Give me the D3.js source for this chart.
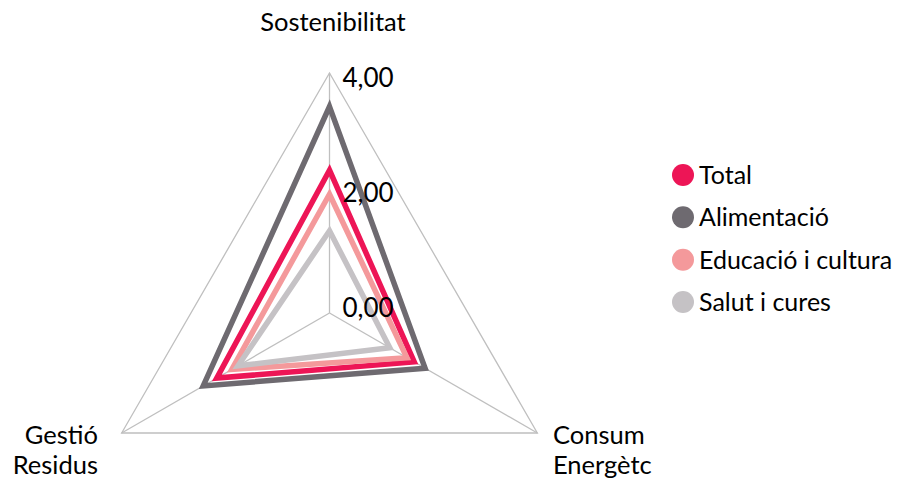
<!DOCTYPE html>
<html><head><meta charset="utf-8">
<script src="https://cdn.jsdelivr.net/npm/d3@7"></script>
<style>
html,body{margin:0;padding:0;background:#fff;}
svg{display:block;font-family:"Lato","Open Sans",sans-serif;}
</style></head>
<body>
<svg id="chart" width="902" height="480"></svg>
<script>
const axes = [["Sostenibilitat"], ["Consum", "Energètc"], ["Gestió", "Residus"]];
const seriesNames = ["Total", "Alimentació", "Educació i cultura", "Salut i cures"];
const total = [2.38, 1.63, 2.17];
const alimentacio = [3.44, 1.84, 2.43];
const educacio = [1.98, 1.49, 1.88];
const salut = [1.37, 1.16, 1.76];
const tickValues = [0, 2, 4];
const tickLabels = ["0,00", "2,00", "4,00"];
const colors = ["#ED1556", "#6E6A70", "#F4999B", "#C5C2C5"];

const seriesValues = [total, alimentacio, educacio, salut];
const svg = d3.select("#chart");
const cx = 329.5, cy = 313, R = 240;
const r = d3.scaleLinear().domain([0, 4]).range([0, R]);
const angle = d3.scaleLinear().domain([0, axes.length]).range([0, 2 * Math.PI]);
const pt = (i, v) => [cx + r(v) * Math.sin(angle(i)), cy - r(v) * Math.cos(angle(i))];

const g = svg.append("g");
// outer grid
const outer = axes.map((a, i) => pt(i, 4));
g.append("path").attr("d", d3.line()(outer) + "Z")
  .attr("fill", "none").attr("stroke", "#BFBFBF").attr("stroke-width", 1.3);
axes.forEach((a, i) => {
  const p = pt(i, 4);
  g.append("line").attr("x1", cx).attr("y1", cy).attr("x2", p[0]).attr("y2", p[1])
    .attr("stroke", "#BFBFBF").attr("stroke-width", 1.3);
});

// series
const line = d3.lineRadial().angle((d, i) => angle(i)).radius(d => r(d)).curve(d3.curveLinearClosed);
seriesValues.forEach((vals, s) => {
  g.append("path").attr("transform", `translate(${cx},${cy})`)
    .attr("d", line(vals)).attr("fill", "none")
    .attr("stroke", colors[s]).attr("stroke-width", 5.5).attr("stroke-linejoin", "miter");
});

// tick labels
tickValues.forEach((v, k) => {
  g.append("text").attr("x", cx + 13).attr("y", cy - r(v) + 4.3 + 2.35 * v)
    .attr("font-size", 26).attr("fill", "#000").text(tickLabels[k]);
});

// axis labels
const labelPos = [
  {x: 333, y: 31, anchor: "middle"},
  {x: 553, y: 444, anchor: "start"},
  {x: 98, y: 444, anchor: "end"}
];
axes.forEach((lines, i) => {
  const t = g.append("text").attr("x", labelPos[i].x).attr("y", labelPos[i].y)
    .attr("text-anchor", labelPos[i].anchor).attr("font-size", 25.5).attr("fill", "#000");
  lines.forEach((l, j) => t.append("tspan").attr("x", labelPos[i].x).attr("dy", j === 0 ? 0 : 30).text(l));
});

// legend
const lg = svg.append("g");
const ly = d3.scalePoint().domain(seriesNames).range([175, 302]);
seriesNames.forEach((n, s) => {
  lg.append("circle").attr("cx", 683).attr("cy", ly(n)).attr("r", 11).attr("fill", colors[s]);
  lg.append("text").attr("x", 699).attr("y", ly(n) + 9).attr("font-size", 25).attr("fill", "#000").text(n);
});
</script>
</body></html>
